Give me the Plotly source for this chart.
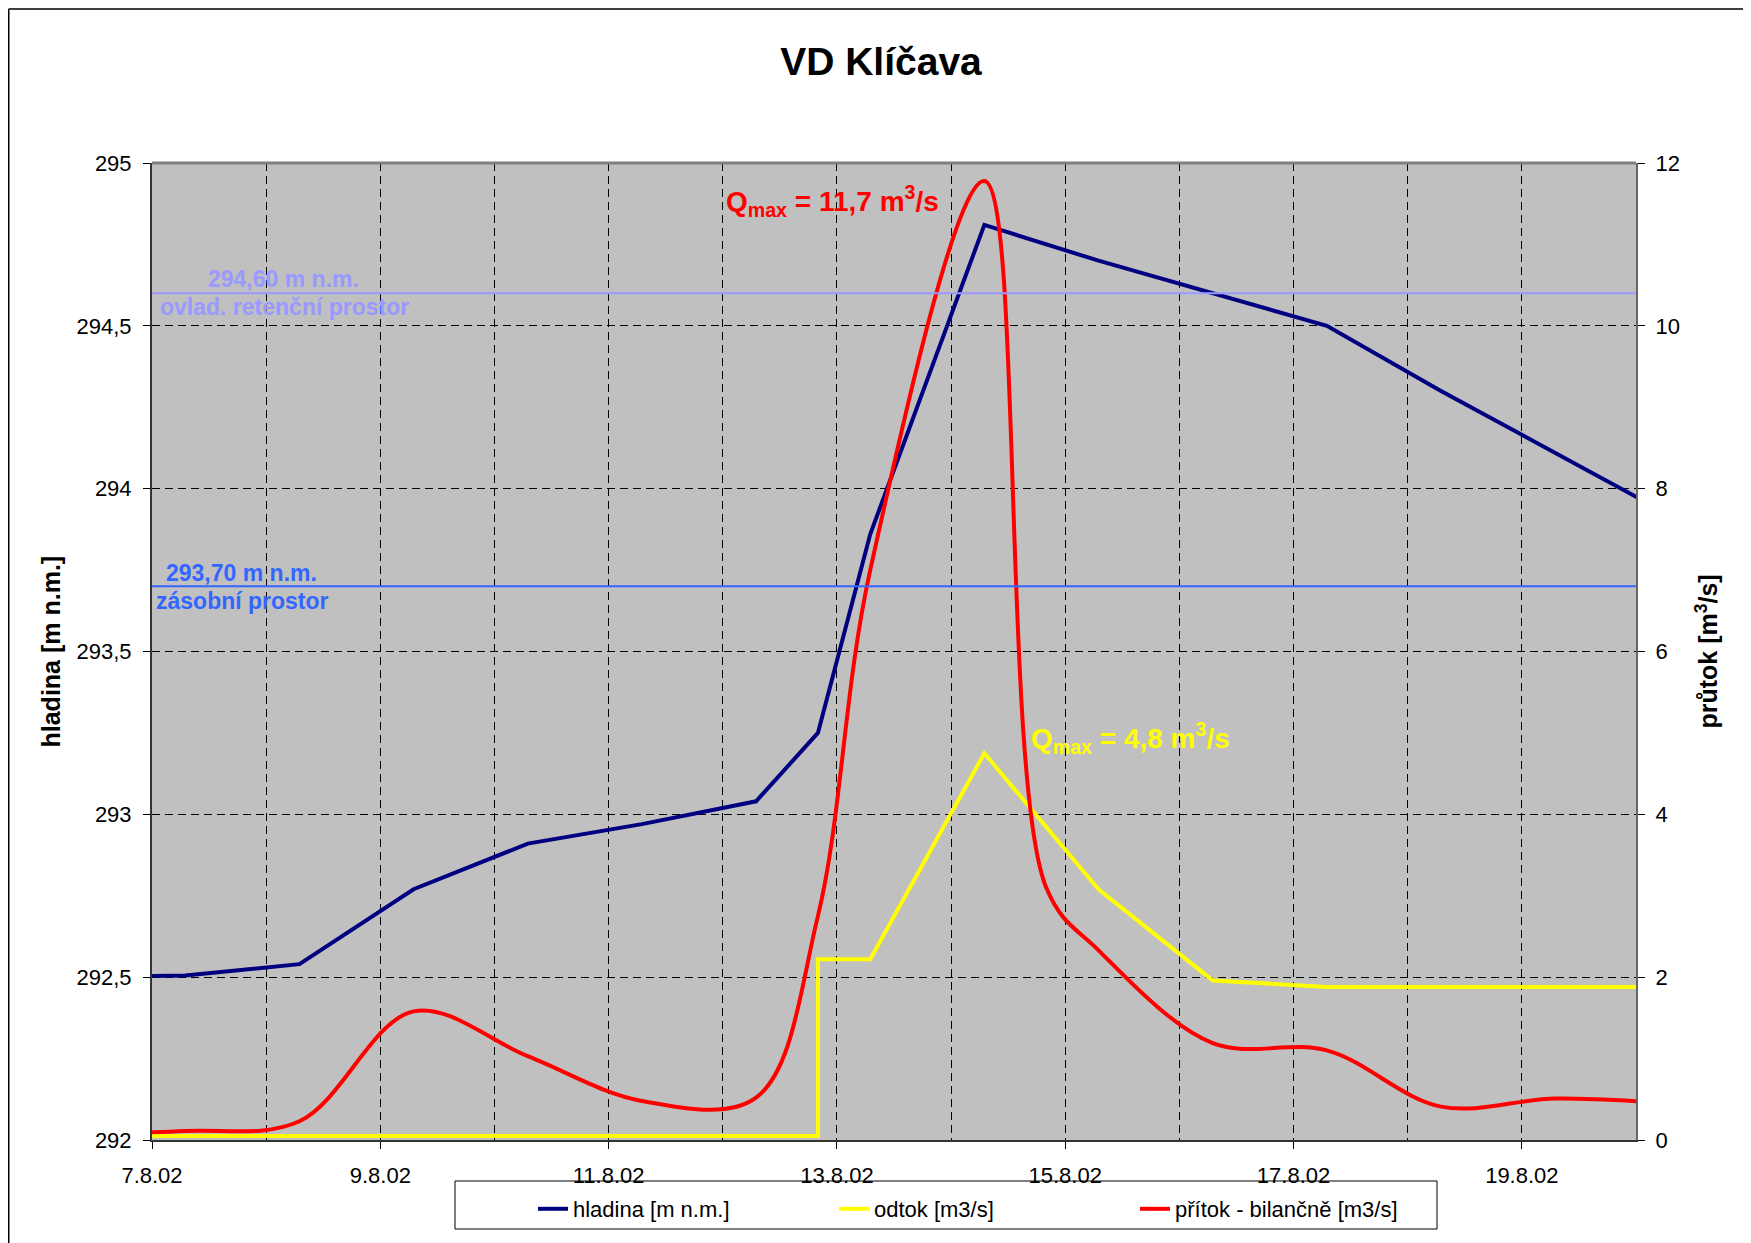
import plotly.graph_objects as go

# ---------------- data ----------------
hladina_t = ["2002-08-06 07:00", "2002-08-07 07:00", "2002-08-08 07:00", "2002-08-09 07:00",
             "2002-08-10 07:00", "2002-08-11 07:00", "2002-08-12 07:00", "2002-08-12 20:00",
             "2002-08-13 07:00", "2002-08-14 07:00", "2002-08-15 07:00", "2002-08-16 07:00",
             "2002-08-17 07:00", "2002-08-18 07:00", "2002-08-19 07:00", "2002-08-20 07:00"]
hladina_v = [292.50, 292.505, 292.54, 292.77, 292.91, 292.97, 293.04, 293.25,
             293.86, 294.81, 294.70, 294.60, 294.50, 294.30, 294.11, 293.92]

odtok_t = ["2002-08-06 07:00", "2002-08-12 20:00", "2002-08-12 20:00", "2002-08-13 07:00",
           "2002-08-14 07:00", "2002-08-15 07:00", "2002-08-16 07:00", "2002-08-17 07:00",
           "2002-08-18 07:00", "2002-08-19 07:00", "2002-08-20 07:00"]
odtok_v = [0.05, 0.05, 2.22, 2.22, 4.75, 3.08, 1.96, 1.88, 1.88, 1.88, 1.88]

pritok_t = ["2002-08-06 07:00", "2002-08-07 07:00", "2002-08-08 07:00", "2002-08-09 07:00",
            "2002-08-10 07:00", "2002-08-11 07:00", "2002-08-12 07:00", "2002-08-12 20:00",
            "2002-08-13 07:00", "2002-08-14 07:00", "2002-08-14 20:00", "2002-08-15 07:00",
            "2002-08-16 07:00", "2002-08-17 07:00", "2002-08-18 07:00", "2002-08-19 07:00",
            "2002-08-20 07:00"]
pritok_v = [0.08, 0.11, 0.23, 1.58, 1.03, 0.48, 0.52, 2.75,
            7.0, 11.78, 3.1, 2.33, 1.19, 1.10, 0.41, 0.51, 0.45]

retencni_hladina = 294.60
zasobni_hladina = 293.70

x_range = ["2002-08-07", "2002-08-20"]
y_range = [292, 295]
y2_range = [0, 12]

FONT = "Liberation Sans, Arial, sans-serif"

# ---------------- layout geometry (pixels, page coordinates) ----------------
OFF = 8                      # default page body margin of the html page
W, H = 1751 - OFF, 1243 - OFF
PL, PR, PT, PB = 152, 1636, 163, 1140          # plot area in page pixels
ML, MT = PL - OFF, PT - OFF
MR, MB = W - (PR - OFF), H - (PB - OFF)
PW = PR - PL
PH = PB - PT


def px(xp):
    return (xp - PL) / PW


def py(yp):
    return (PB - yp) / PH


fig = go.Figure()

fig.add_trace(go.Scatter(x=hladina_t, y=hladina_v, name="hladina [m n.m.]",
                         mode="lines", line=dict(color="#000080", width=4), yaxis="y"))
fig.add_trace(go.Scatter(x=odtok_t, y=odtok_v, name="odtok [m3/s]",
                         mode="lines", line=dict(color="#FFFF00", width=4), yaxis="y2"))
fig.add_trace(go.Scatter(x=pritok_t, y=pritok_v, name="přítok - bilančně [m3/s]",
                         mode="lines", line=dict(color="#FF0000", width=4, shape="spline", smoothing=1.0),
                         yaxis="y2"))

grid = dict(gridcolor="#000000", gridwidth=1, griddash="8px,5px")

fig.update_layout(
    width=W, height=H,
    margin=dict(l=ML, r=MR, t=MT, b=MB, pad=0),
    paper_bgcolor="white",
    plot_bgcolor="#C0C0C0",
    separators=", ",
    font=dict(family=FONT, size=22, color="black"),
    title=dict(text="<b>VD Klíčava</b>", x=(881 - OFF) / W, xanchor="center", xref="container",
               y=1 - (61 - OFF) / H, yanchor="middle", yref="container",
               font=dict(family=FONT, size=39, color="black")),
    showlegend=True,
    legend=dict(orientation="h", x=px(533), xanchor="left", y=py(1188), yanchor="top",
                bgcolor="rgba(0,0,0,0)", borderwidth=0,
                font=dict(family=FONT, size=22, color="black"),
                entrywidth=256, entrywidthmode="pixels"),
    xaxis=dict(type="date", range=x_range, dtick=2 * 86400000, tick0="2002-08-07",
               tickformat="%-d.%-m.%y", showgrid=True, **grid,
               minor=dict(dtick=86400000, tick0="2002-08-07", showgrid=True, ticks="", **grid),
               ticks="outside", ticklen=7, tickwidth=1, tickcolor="black",
               ticklabelstandoff=8,
               showline=True, linecolor="#333333", linewidth=2,
               zeroline=False, tickfont=dict(size=22)),
    yaxis=dict(range=y_range, dtick=0.5, showgrid=True, **grid,
               ticks="outside", ticklen=7, tickwidth=1, tickcolor="black",
               ticklabelstandoff=7,
               showline=True, linecolor="#333333", linewidth=2,
               zeroline=False, tickfont=dict(size=22)),
    yaxis2=dict(range=y2_range, dtick=2, overlaying="y", side="right", showgrid=False,
                ticks="outside", ticklen=7, tickwidth=1, tickcolor="black",
                ticklabelstandoff=6,
                showline=True, linecolor="#666666", linewidth=2,
                zeroline=False, tickfont=dict(size=22)),
)

# reference levels
fig.add_hline(y=retencni_hladina, line=dict(color="#9999FF", width=2), layer="above")
fig.add_hline(y=zasobni_hladina, line=dict(color="#3366FF", width=2), layer="above")

shapes = [
    # plot area top border
    dict(type="line", xref="paper", yref="paper", x0=0, x1=1, y0=1, y1=1,
         line=dict(color="#808080", width=3), layer="above"),
    # legend box
    dict(type="rect", xref="paper", yref="paper", x0=px(455), x1=px(1437), y0=py(1181), y1=py(1229),
         line=dict(color="black", width=1), fillcolor="white", layer="below"),
    # outer chart frame
    dict(type="line", xref="paper", yref="paper", x0=px(8.5), x1=px(8.5), y0=py(1270), y1=py(9),
         line=dict(color="black", width=2)),
    dict(type="line", xref="paper", yref="paper", x0=px(8.5), x1=px(1770), y0=py(9), y1=py(9),
         line=dict(color="#404040", width=2)),
]
for s in shapes:
    fig.add_shape(**s)

ann = [
    dict(text="<b>hladina [m n.m.]</b>", x=px(50), y=0.5, textangle=-90,
         font=dict(size=25, color="black")),
    dict(text="<b>průtok [m<sup>3</sup>/s]</b>", x=px(1706), y=0.5, textangle=-90,
         font=dict(size=25, color="black")),
    dict(text="<b>294,60 m n.m.</b>", x=px(283), y=py(279), font=dict(size=23, color="#9999FF")),
    dict(text="<b>ovlad. retenční prostor</b>", x=px(284), y=py(307), font=dict(size=23, color="#9999FF")),
    dict(text="<b>293,70 m n.m.</b>", x=px(241), y=py(573), font=dict(size=23, color="#3366FF")),
    dict(text="<b>zásobní prostor</b>", x=px(242), y=py(601), font=dict(size=23, color="#3366FF")),
    dict(text="<b>Q<sub>max</sub> = 11,7 m<sup>3</sup>/s</b>", x=px(832), y=py(201),
         font=dict(size=28, color="#FF0000")),
    dict(text="<b>Q<sub>max</sub> = 4,8 m<sup>3</sup>/s</b>", x=px(1130), y=py(738),
         font=dict(size=28, color="#FFFF00")),
]
for a in ann:
    fig.add_annotation(xref="paper", yref="paper", showarrow=False, xanchor="center",
                       yanchor="middle", **{k: v for k, v in a.items() if k != "font"},
                       font=dict(family=FONT, **a["font"]))

fig.write_html("out.html")
